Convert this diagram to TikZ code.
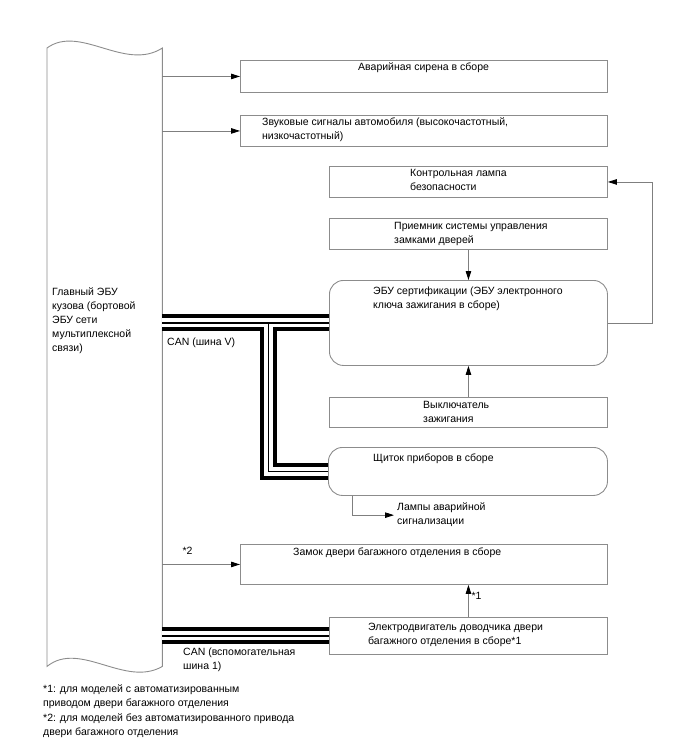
\documentclass[tikz,border=0pt]{standalone}
\usepackage{fontspec}
\setmainfont{Liberation Sans}
\usepackage{tikz}
\usetikzlibrary{calc}
\usetikzlibrary{positioning}
\usetikzlibrary{arrows.meta}
\definecolor{frameGray}{HTML}{8C8C8C}
\definecolor{wireGray}{HTML}{7F7F7F}

\begin{document}
\begin{tikzpicture}[
			x=1pt, y=-1pt,
			partbox/.style={rectangle, draw=frameGray, line width=0.9pt, anchor=north west, inner sep=0pt},
			ecubox/.style={partbox, rounded corners=14pt},
			lbl/.style={anchor=north west, inner sep=0pt, align=left, font=\fontsize{10.5}{14}\selectfont},
			sigarrow/.style={-{Triangle[length=9pt,width=5.5pt,color=black]}, draw=wireGray, line width=0.8pt},
			]
			\useasboundingbox (0,0) rectangle (688,755);
			% main body ECU
			\node[inner sep=0pt, minimum width=115pt, minimum height=618pt, anchor=north west] (body) at (47,48) {};
			\draw[frameGray, line width=0.9pt] (body.north west) .. controls (80,24) and (125,72) .. (body.north east)
				-- (body.south east) .. controls (125,688) and (80,640) .. (body.south west) -- cycle;
			\node[lbl] (bodytxt) at (52,288) {Главный ЭБУ\\кузова (бортовой\\ЭБУ сети\\мультиплексной\\связи)};
			% boxes
			\node[partbox, minimum width=367pt, minimum height=32pt] (siren) at (240,60) {};
			\node[partbox, minimum width=367pt, minimum height=31pt] (horn) at (240,115) {};
			\node[partbox, minimum width=278pt, minimum height=31pt] (lamp) at (329,166) {};
			\node[partbox, minimum width=278pt, minimum height=31pt] (recv) at (329,218) {};
			\node[ecubox, minimum width=278pt, minimum height=85pt] (cert) at (329,280) {};
			\node[partbox, minimum width=278pt, minimum height=30pt] (ign) at (329,397) {};
			\node[ecubox, minimum width=279pt, minimum height=48pt] (meter) at (328,447) {};
			\node[partbox, minimum width=367pt, minimum height=40pt] (lock) at (240,544) {};
			\node[partbox, minimum width=278pt, minimum height=37pt] (motor) at (329,617) {};
			% box texts
			\node[lbl, below right=3pt and 118pt of siren.north west] {Аварийная сирена в сборе};
			\node[lbl, below right=3pt and 22pt of horn.north west] {Звуковые сигналы автомобиля (высокочастотный,\\низкочастотный)};
			\node[lbl, below right=3pt and 81pt of lamp.north west] {Контрольная лампа\\безопасности};
			\node[lbl, below right=4pt and 65pt of recv.north west] {Приемник системы управления\\замками дверей};
			\node[lbl, below right=7pt and 44pt of cert.north west] {ЭБУ сертификации (ЭБУ электронного\\ключа зажигания в сборе)};
			\node[lbl, below right=4pt and 94pt of ign.north west] {Выключатель\\зажигания};
			\node[lbl, below right=7pt and 45pt of meter.north west] {Щиток приборов в сборе};
			\node[lbl, below right=4pt and 53pt of lock.north west] {Замок двери багажного отделения в сборе};
			\node[lbl, below right=6pt and 39pt of motor.north west] {Электродвигатель доводчика двери\\багажного отделения в сборе*1};
			\node[lbl] (haz) at (397,503) {Лампы аварийной\\сигнализации};
			% signal lines
			\foreach \t in {siren,horn,lock} \draw[sigarrow] (body.east |- \t.west) -- (\t.west);
			\draw[sigarrow] (recv.south) -- (cert.north);
			\draw[sigarrow] (ign.north) -- (cert.south);
			\draw[sigarrow] (cert.east) -- ++(44,0) |- (lamp.east);
			\draw[sigarrow] ([xshift=24pt]meter.south west) |- ([xshift=-3pt]haz.west);
			\draw[sigarrow] (motor.north) -- (motor.north |- lock.south);
			\node[lbl, below right=3pt and 20pt of body.north east |- lock.north] {*2};
			\node[lbl, right=3pt of motor.north |- {(0,596)}] {*1};
			% CAN buses
			\coordinate (tap) at ($(body.east |- cert.west)+(106,0)$);
			\foreach \w/\c in {17pt/black, 9pt/white, 1.2pt/black}
				\draw[line width=\w, draw=\c] (body.east |- cert.west) -- (cert.west)
					(tap) |- (meter.west)
					(body.east |- motor.west) -- (motor.west);
			\node[lbl] at (167,338) {CAN (шина V)};
			\node[lbl] at (183,648) {CAN (вспомогательная\\шина 1)};
			% notes
			\node[lbl] at (43,684) {*1: для моделей с автоматизированным\\приводом двери багажного отделения};
			\node[lbl] at (43,713) {*2: для моделей без автоматизированного привода\\двери багажного отделения};
		\end{tikzpicture}
\end{document}
